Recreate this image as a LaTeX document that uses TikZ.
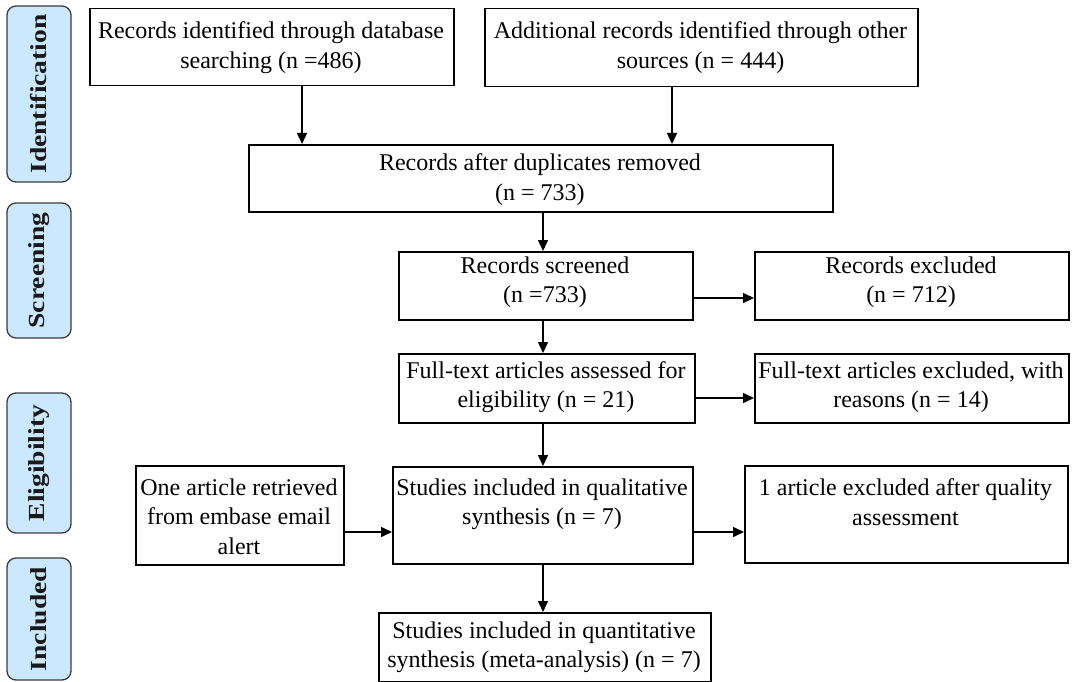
\documentclass[tikz,border=0pt]{standalone}
\usepackage{fontspec}
\setmainfont{Liberation Serif}
\newfontfamily\sidefont{Liberation Serif}[FakeStretch=1.2]
\usetikzlibrary{arrows.meta}
\definecolor{sideblue}{RGB}{204,232,255}
\definecolor{sideedge}{RGB}{60,60,60}
\begin{document}
\begin{tikzpicture}[x=1pt,y=-1pt,
  box/.style={draw=black, line width=1.5pt, inner sep=0pt, anchor=north west},
  txt/.style={align=center, inner sep=0pt, anchor=north, font=\fontsize{24}{29.5}\selectfont, text=black},
  side/.style={draw=sideedge, fill=sideblue, rounded corners=9pt, line width=1.3pt, rotate=90,
    inner sep=0pt, font=\sidefont\bfseries\fontsize{23}{27}\selectfont, text=black!90},
  arr/.style={line width=1.5pt, -{Triangle[length=11pt,width=10pt]}}]
\useasboundingbox (0,0) rectangle (1073,682);

% side labels
\node[side, minimum width=176pt, minimum height=64pt] (sid) at (39,94) {Identification};
\node[side, minimum width=135pt, minimum height=64pt] (ssc) at (39,270.5) {Screening};
\node[side, minimum width=140pt, minimum height=64pt] (sel) at (39,463) {Eligibility};
\node[side, minimum width=122pt, minimum height=64pt] (sin) at (39,619) {Included};

% boxes
\node[box, minimum width=364pt, minimum height=77pt] (b1) at (89,8) {};
\node[box, minimum width=433pt, minimum height=78pt] (b2) at (484,8) {};
\node[box, minimum width=584pt, minimum height=67pt] (b3) at (248,144) {};
\node[box, minimum width=294pt, minimum height=68pt] (scr) at (398,251) {};
\node[box, minimum width=314pt, minimum height=68pt] (rex) at (754,251) {};
\node[box, minimum width=296pt, minimum height=69pt] (fta) at (398,353) {};
\node[box, minimum width=314pt, minimum height=69pt] (fte) at (754,353) {};
\node[box, minimum width=208pt, minimum height=99pt] (one) at (135,465) {};
\node[box, minimum width=300pt, minimum height=97pt] (qual) at (392,466) {};
\node[box, minimum width=323pt, minimum height=97pt] (oex) at (744,465) {};
\node[box, minimum width=332pt, minimum height=69pt] (qnt) at (378,612) {};

% texts
\node[txt] (t1) at (271,21.5) {Records identified through database\\searching (n =486)};
\node[txt] (t2) at (700.5,21.5) {Additional records identified through other\\sources (n = 444)};
\node[txt] (t3) at (540,153.5) {Records after duplicates removed\\(n = 733)};
\node[txt] (tscr) at (545,256.5) {Records screened\\(n =733)};
\node[txt] (trex) at (911,256.5) {Records excluded\\(n = 712)};
\node[txt] (tfta) at (546,361) {Full-text articles assessed for\\eligibility (n = 21)};
\node[txt] (tfte) at (911,361.5) {Full-text articles excluded, with\\reasons (n = 14)};
\node[txt] (tone) at (239,478.5) {One article retrieved\\from embase email\\alert};
\node[txt] (tqual) at (542,478.5) {Studies included in qualitative\\synthesis (n = 7)};
\node[txt] (toex) at (905.5,478.5) {1 article excluded after quality\\assessment};
\node[txt] (tqnt) at (544,621.5) {Studies included in quantitative\\synthesis (meta-analysis) (n = 7)};

% connector guides
\coordinate (xa) at (302,0);
\coordinate (xb) at (672,0);
\coordinate (xm) at (543,0);
\coordinate (ya) at (0,298);
\coordinate (yb) at (0,398);
\coordinate (yc) at (0,532);

% connectors
\draw[arr] (b1.south -| xa) -- (b3.north -| xa);
\draw[arr] (b2.south -| xb) -- (b3.north -| xb);
\draw[arr] (b3.south -| xm) -- (scr.north -| xm);
\draw[arr] (scr.east |- ya) -- (rex.west |- ya);
\draw[arr] (scr.south -| xm) -- (fta.north -| xm);
\draw[arr] (fta.east |- yb) -- (fte.west |- yb);
\draw[arr] (fta.south -| xm) -- (qual.north -| xm);
\draw[arr] (one.east |- yc) -- (qual.west |- yc);
\draw[arr] (qual.east |- yc) -- (oex.west |- yc);
\draw[arr] (qual.south -| xm) -- (qnt.north -| xm);
\end{tikzpicture}
\end{document}
